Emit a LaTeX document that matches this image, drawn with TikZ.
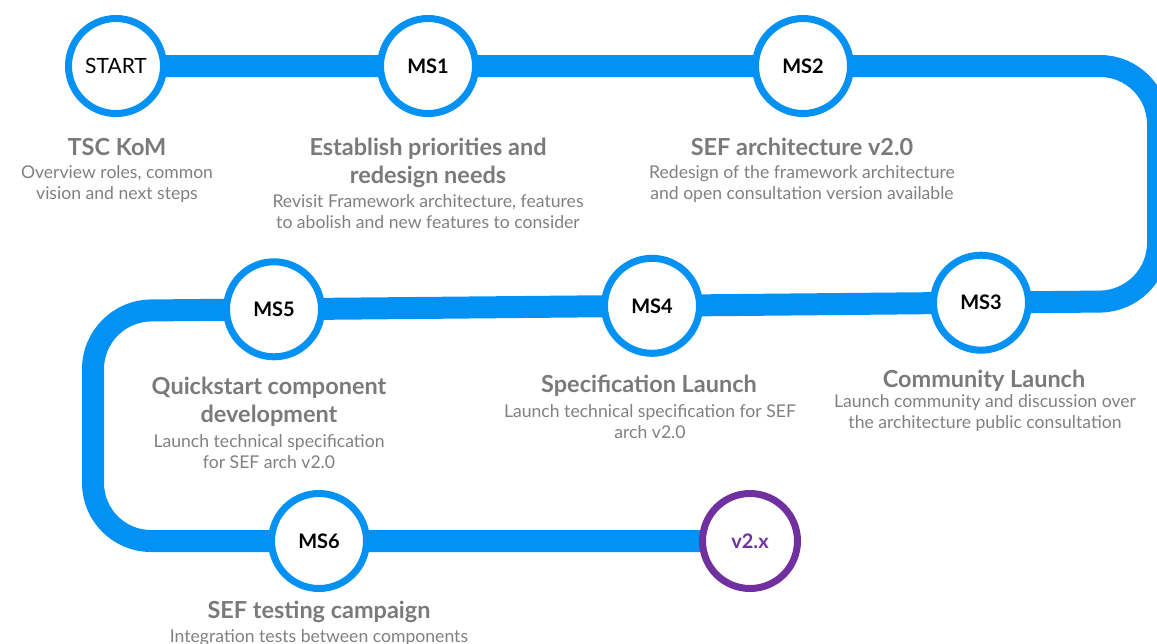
\documentclass[tikz,border=0pt]{standalone}
\usepackage{fontspec}
\setmainfont{Lato}
\usetikzlibrary{backgrounds}
\definecolor{bandblue}{RGB}{3,146,243}
\definecolor{msviolet}{RGB}{112,48,160}
\definecolor{headgray}{RGB}{122,122,122}
\definecolor{bodygray}{RGB}{128,128,128}
\begin{document}
\begin{tikzpicture}[x=0.75pt,y=-0.75pt,
  band/.style={line width=16.5pt, draw=bandblue, rounded corners=43.5pt},
  ms/.style={circle, draw=bandblue, line width=5.25pt, fill=white, minimum size=71.25pt, inner sep=0pt, text=black, font=\fontsize{15}{18}\selectfont\bfseries},
  head/.style={anchor=base, align=center, inner sep=0pt, text=headgray, font=\fontsize{17.6}{21}\selectfont\bfseries},
  body/.style={anchor=base, align=center, inner sep=0pt, text=bodygray, font=\fontsize{13.2}{15.75}\selectfont}]
\useasboundingbox (0,0) rectangle (1157,643);
\clip (0,0) rectangle (1157,643);

% milestones
\node[ms, font=\fontsize{15.75}{18}\selectfont] (start) at (116,66) {START};
\node[ms] (ms1) at (428,66) {MS1};
\node[ms] (ms2) at (803,66) {MS2};
\node[ms] (ms3) at (981,302.7) {MS3};
\node[ms] (ms4) at (652,305.8) {MS4};
\node[ms] (ms5) at (274,309.3) {MS5};
\node[ms] (ms6) at (319,541) {MS6};
\node[ms, draw=msviolet, text=msviolet] (v2x) at (750,541) {v2.x};

\coordinate (c1) at (1158,66);
\coordinate (c2) at (1158,301);
\coordinate (c3) at (93,311);
\coordinate (c4) at (93,541);

\begin{scope}[on background layer]
\draw[band] (start.center) -- (ms1.center) -- (ms2.center) -- (c1) -- (c2)
  -- (ms3.center) -- (ms4.center) -- (ms5.center) -- (c3) -- (c4)
  -- (ms6.center) -- (v2x.center);
\end{scope}

% texts (anchor base = baseline of the last line)
\node[head] (h0) at (117,155) {TSC KoM};
\node[body] (b0) at (117,199) {Overview roles, common\\vision and next steps};
\node[head] (h1) at (428,183) {Establish priorities and\\redesign needs};
\node[body] (b1) at (428,228) {Revisit Framework architecture, features\\to abolish and new features to consider};
\node[head] (h2) at (802,155) {SEF architecture v2.0};
\node[body] (b2) at (802,199) {Redesign of the framework architecture\\and open consultation version available};
\node[head] (h3) at (984,387) {Community Launch};
\node[body] (b3) at (985,428) {Launch community and discussion over\\the architecture public consultation};
\node[head] (h4) at (649,392) {Specification Launch};
\node[body] (b4) at (650,438) {Launch technical specification for SEF\\arch v2.0};
\node[head] (h5) at (269,422) {Quickstart component\\development};
\node[body] (b5) at (269,468) {Launch technical specification\\for SEF arch v2.0};
\node[head] (h6) at (319,618) {SEF testing campaign};
\node[body] (b6) at (319,642) {Integration tests between components};
\end{tikzpicture}
\end{document}
